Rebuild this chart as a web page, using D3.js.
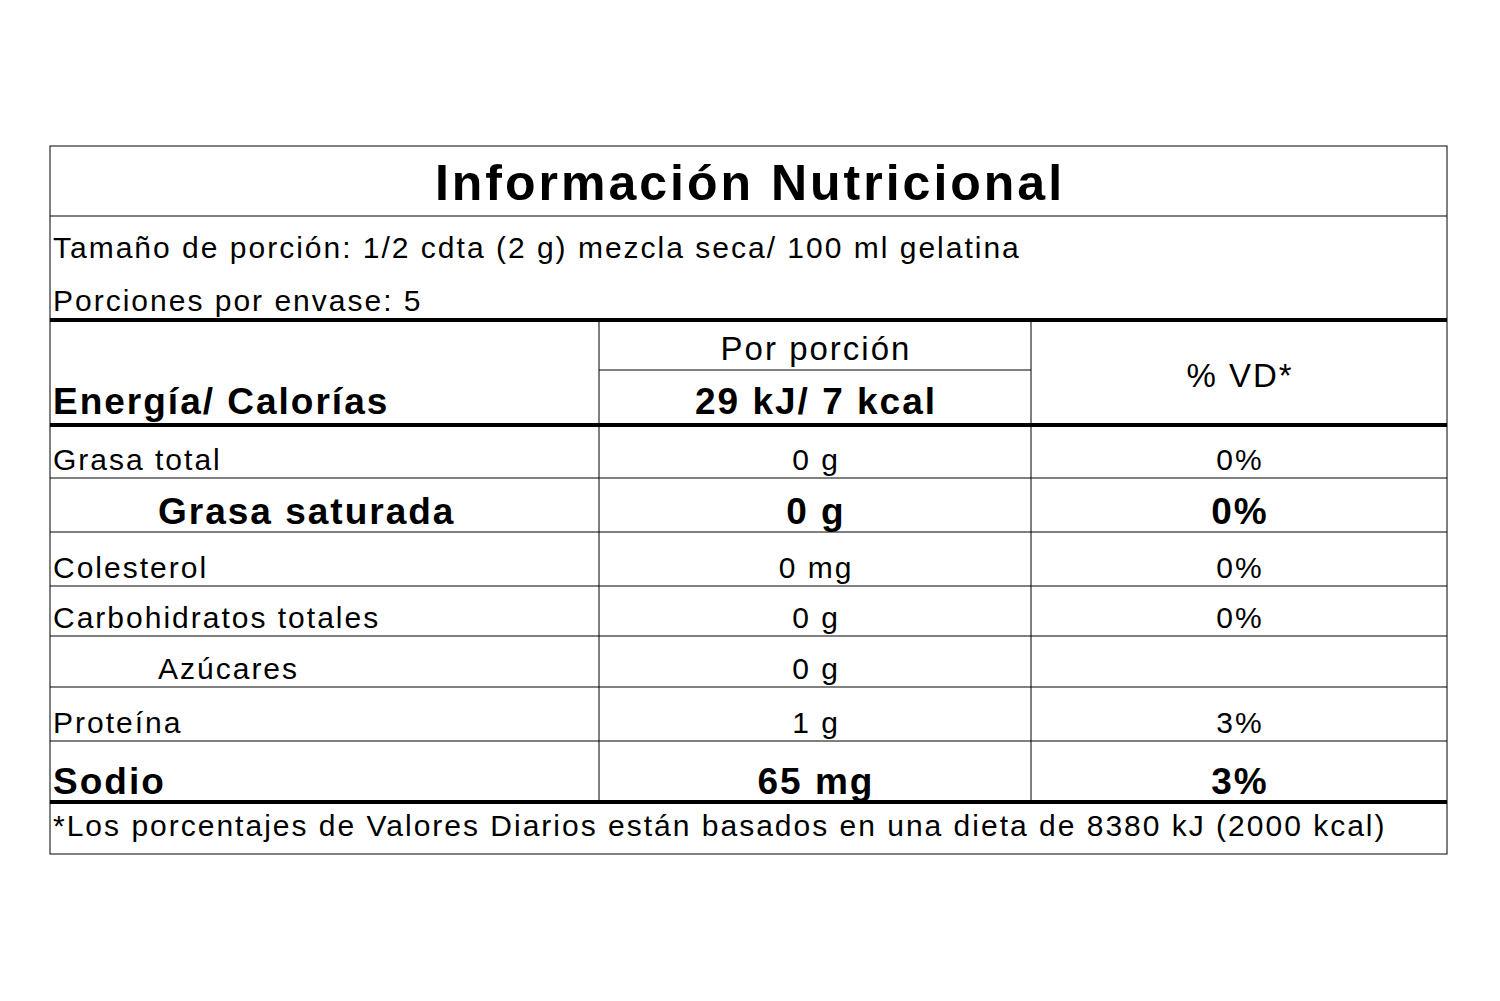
<!DOCTYPE html>
<html><head><meta charset="utf-8">
<script src="https://cdn.jsdelivr.net/npm/d3@7"></script>
<style>body{margin:0;background:#fff}text{font-family:"Liberation Sans",Arial,sans-serif;fill:#000}</style>
</head><body><svg id="c" width="1500" height="1001"></svg>
<script>
const title = "Información Nutricional";
const servingLines = ["Tamaño de porción: 1/2 cdta (2 g) mezcla seca/ 100 ml gelatina", "Porciones por envase: 5"];
const headerLabels = ["Energía/ Calorías", "Por porción", "29 kJ/ 7 kcal", "% VD*"];
const nutrients = ["Grasa total", "Grasa saturada", "Colesterol", "Carbohidratos totales", "Azúcares", "Proteína", "Sodio"];
const amounts = ["0 g", "0 g", "0 mg", "0 g", "0 g", "1 g", "65 mg"];
const dailyValues = ["0%", "0%", "0%", "0%", "", "3%", "3%"];
const boldRows = [false, true, false, false, false, false, true];
const indentRows = [false, true, false, false, true, false, false];
const footnote = "*Los porcentajes de Valores Diarios están basados en una dieta de 8380 kJ (2000 kcal)";

const svg = d3.select("#c");
const L = 50, R = 1447, T = 146, B = 854;
const c1 = 599, c2 = 1031;
const rowEdges = [425, 478, 532, 586, 636, 687, 741, 802];
const line = (x1,y1,x2,y2,w)=>svg.append("line").attr("x1",x1).attr("y1",y1).attr("x2",x2).attr("y2",y2).attr("stroke","#000").attr("stroke-width",w);
const txt = (s,x,y,size,bold,anchor,ls)=>{
  ls = ls==null?2:ls;
  const dx = (anchor==="middle")? ls/2 : 0;
  return svg.append("text").attr("x",x+dx).attr("y",y).attr("font-size",size).attr("font-weight",bold?"bold":"normal")
    .attr("letter-spacing",ls).attr("text-anchor",anchor||"start").text(s);
};

svg.append("rect").attr("x",L).attr("y",T).attr("width",R-L).attr("height",B-T).attr("fill","none").attr("stroke","#000").attr("stroke-width",1);
txt(title,(L+R)/2,200,50,true,"middle",3);
line(L,216,R,216,1);
txt(servingLines[0],53,258,30,false);
txt(servingLines[1],53,311,30,false);
line(L,320,R,320,4);
line(c1,320,c1,802,1); line(c2,320,c2,802,1);
line(c1,370,c2,370,1);
txt(headerLabels[0],53,414,37,true);
txt(headerLabels[1],(c1+c2)/2,360,33,false,"middle");
txt(headerLabels[2],(c1+c2)/2,414,37,true,"middle");
txt(headerLabels[3],(c2+R)/2,387,33,false,"middle");
line(L,425,R,425,4);
nutrients.forEach((n,i)=>{
  const y0=rowEdges[i], y1=rowEdges[i+1];
  if(i>0) line(L,y0,R,y0,1);
  const b=boldRows[i], fs=b?37:30, ty=y1-(b?8:8);
  txt(n, indentRows[i]?158:53, ty, fs, b);
  txt(amounts[i],(c1+c2)/2,ty,fs,b,"middle");
  txt(dailyValues[i],(c2+R)/2,ty,fs,b,"middle");
});
line(L,802,R,802,4);
txt(footnote,53,836,30,false);
</script></body></html>
